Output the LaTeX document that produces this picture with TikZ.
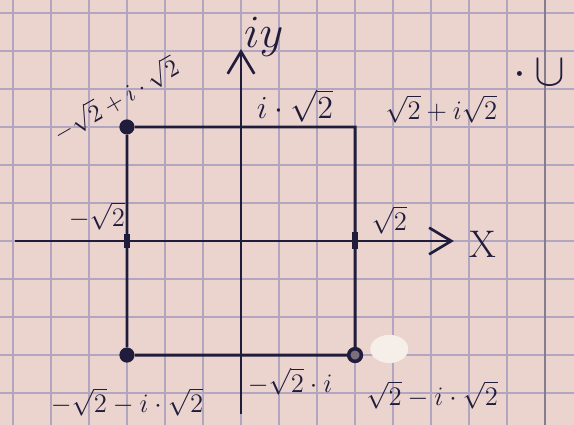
\documentclass[tikz,border=0pt]{standalone}
\usepackage{amsmath,amssymb}
\usetikzlibrary{arrows.meta,positioning}
\definecolor{papel}{HTML}{EBD4CD}
\definecolor{reticula}{HTML}{B2A5BF}
\definecolor{tinta}{HTML}{201C3C}
\definecolor{borron}{HTML}{F6EEE8}

\begin{document}
\begin{tikzpicture}[scale=0.6,font=\large,
          eje/.style={tinta,line width=1.2pt,-{Straight Barb[length=3.5mm,width=4.2mm]}},
          lado/.style={tinta,line width=1.3pt},
          punto/.style={circle,fill=tinta,inner sep=0pt,minimum size=2.4mm},
          marca/.style={tinta,line width=2.4pt},
          etiq/.style={tinta,inner sep=1pt}]
        % la hoja cuadriculada
        \useasboundingbox[fill=papel] (-6.34,-4.84) rectangle (8.76,6.34);
        \draw[reticula,line width=0.6pt] (-6.34,-4.84) grid (8.76,6.34);
        \draw[reticula!75!black,line width=0.9pt] (8,-4.84) -- (8,6.34);
        \fill[borron] (3.9,-2.84) ellipse (0.5 and 0.37);
        % ejes
        \coordinate (xizq) at (-5.95,0);
        \coordinate (xder) at (5.6,0);
        \coordinate (yabajo) at (0,-4.55);
        \coordinate (yarriba) at (0,5.05);
        \draw[eje] (xizq) -- (xder);
        \draw[eje] (yabajo) -- (yarriba);
        \node[etiq,font=\LARGE] (ex) at (6.37,-0.08) {X};
        \node[etiq,font=\huge] (ey) at (0.6,5.37) {$iy$};
        % el cuadrado
        \node[punto] (ai) at (-3,3) {};
        \coordinate (ad) at (3,3);
        \node[punto] (bi) at (-3,-3) {};
        \node[punto,fill=tinta!55!papel,draw=tinta,line width=1.6pt,minimum size=2mm] (bd) at (3,-3) {};
        \draw[lado] (ai) -- (ad) -- (bd) -- (bi) -- (ai);
        \coordinate (mi) at (-3,0);
        \coordinate (md) at (3,0);
        \draw[marca] ([yshift=-1.8mm]mi) -- ([yshift=1.8mm]mi);
        \draw[marca] ([yshift=-2.1mm]md) -- ([yshift=2.4mm]md);
        % etiquetas
        \node[etiq,rotate=30,font=\fontsize{11pt}{13pt}\selectfont] (lai) at (-3.3,3.72) {$-\sqrt{2}+i\cdot\sqrt{2}$};
        \node[etiq,font=\Large] (lim) at (1.42,3.55) {$i\cdot\sqrt{2}$};
        \node[etiq] (lad) at (5.27,3.47) {$\sqrt{2}+i\sqrt{2}$};
        \node[etiq,font=\huge] (lw) at (7.85,4.42) {$\cdot\,\cup$};
        \node[etiq] (lmx) at (-3.79,0.66) {$-\sqrt{2}$};
        \node[etiq] (lpx) at (3.9,0.55) {$\sqrt{2}$};
        \node[etiq] (lmi) at (1.29,-3.7) {$-\sqrt{2}\cdot i$};
        \node[etiq] (lbi) at (-3.0,-4.24) {$-\sqrt{2}-i\cdot\sqrt{2}$};
        \node[etiq] (lbd) at (5.03,-4.05) {$\sqrt{2}-i\cdot\sqrt{2}$};
      \end{tikzpicture}
\end{document}
